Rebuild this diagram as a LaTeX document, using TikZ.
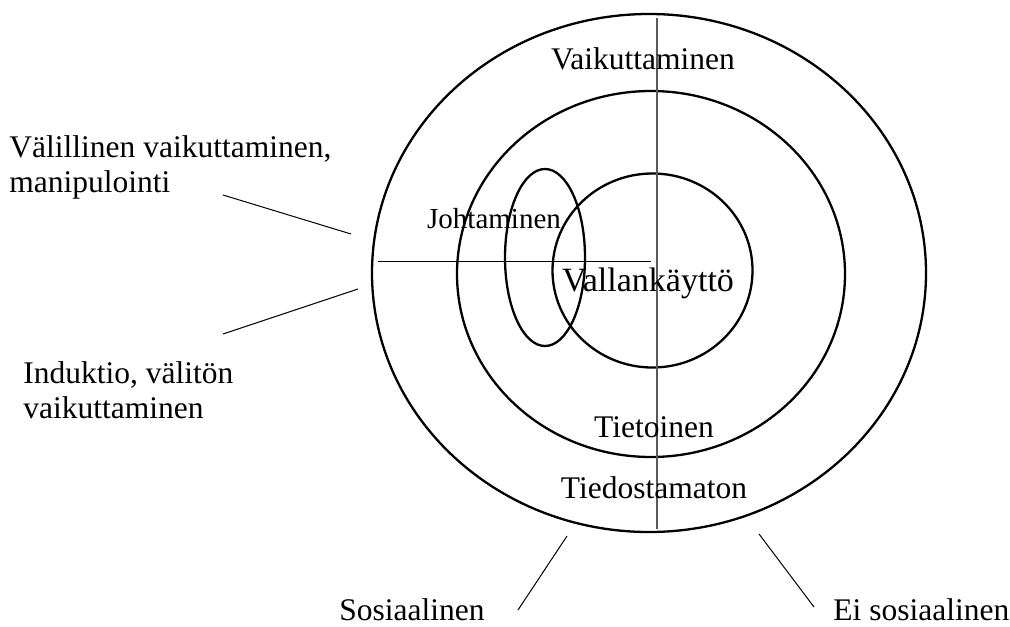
\documentclass[tikz,border=0pt]{standalone}
\usepackage{fontspec}
\setmainfont{Liberation Serif}
\usetikzlibrary{positioning}

\begin{document}
\begin{tikzpicture}[
        x=0.5pt, y=-0.5pt,
        ring/.style={draw=black, line width=1.15pt},
        axis/.style={draw=black, line width=0.5pt},
        midaxis/.style={draw=black!65, line width=0.8pt},
        leader/.style={draw=black, line width=0.5pt},
        txt/.style={inner sep=0pt, font=\fontsize{15.75}{17.5}\selectfont},
        smalltxt/.style={inner sep=0pt, font=\fontsize{14.5}{16}\selectfont},
        bigtxt/.style={inner sep=0pt, font=\fontsize{17}{19}\selectfont}
        ]
        \useasboundingbox (0,0) rectangle (1010,626);

        % centres of the rings
        \coordinate (outerc)  at (649,273);
        \coordinate (middlec) at (651,274);
        \coordinate (innerc)  at (652.5,270.5);
        \coordinate (johtc)   at (545,257.5);

        \draw [ring] (outerc)  ellipse [x radius=277, y radius=259];
        \draw [ring] (middlec) ellipse [x radius=194, y radius=183];
        \draw [ring] (innerc)  ellipse [x radius=100, y radius=97];
        \draw [ring] (johtc)   ellipse [x radius=40,  y radius=88.5];

        % axes
        \coordinate (vtop) at (657,18);
        \coordinate (vbot) at (657,529);
        \coordinate (hleft)  at (378,261);
        \coordinate (hright) at (651,261);
        \draw [midaxis] (vtop) -- (vbot);
        \draw [axis] (hleft) -- (hright);

        % texts inside
        \node (vaik)  [txt, anchor=base]      at (643,70)  {Vaikuttaminen};
        \node (joht)  [smalltxt, anchor=base] at (494,228) {Johtaminen};
        \node (valla) [bigtxt, anchor=base]   at (648,291) {Vallankäyttö};
        \node (tiet)  [txt, anchor=base]      at (654,437) {Tietoinen};
        \node (tied)  [txt, anchor=base]      at (654,498) {Tiedostamaton};

        % texts outside
        \node (valil) [txt, align=left, anchor=north west] at (9,135.5)  {Välillinen vaikuttaminen,\\manipulointi};
        \node (indu)  [txt, align=left, anchor=north west] at (23,361.5) {Induktio, välitön\\vaikuttaminen};
        \node (sos)   [txt, anchor=base]      at (412,620) {Sosiaalinen};
        \node (eisos) [txt, anchor=base west] at (833,620) {Ei sosiaalinen};

        % leader lines
        \coordinate (l1a) at (223,195);
        \coordinate (l1b) at (351,234);
        \coordinate (l2a) at (223,334);
        \coordinate (l2b) at (358,289);
        \coordinate (l3a) at (567,536);
        \coordinate (l3b) at (518,610);
        \coordinate (l4a) at (759,534);
        \coordinate (l4b) at (814,607);
        \draw [leader] (l1a) -- (l1b);
        \draw [leader] (l2a) -- (l2b);
        \draw [leader] (l3a) -- (l3b);
        \draw [leader] (l4a) -- (l4b);

    \end{tikzpicture}
\end{document}
